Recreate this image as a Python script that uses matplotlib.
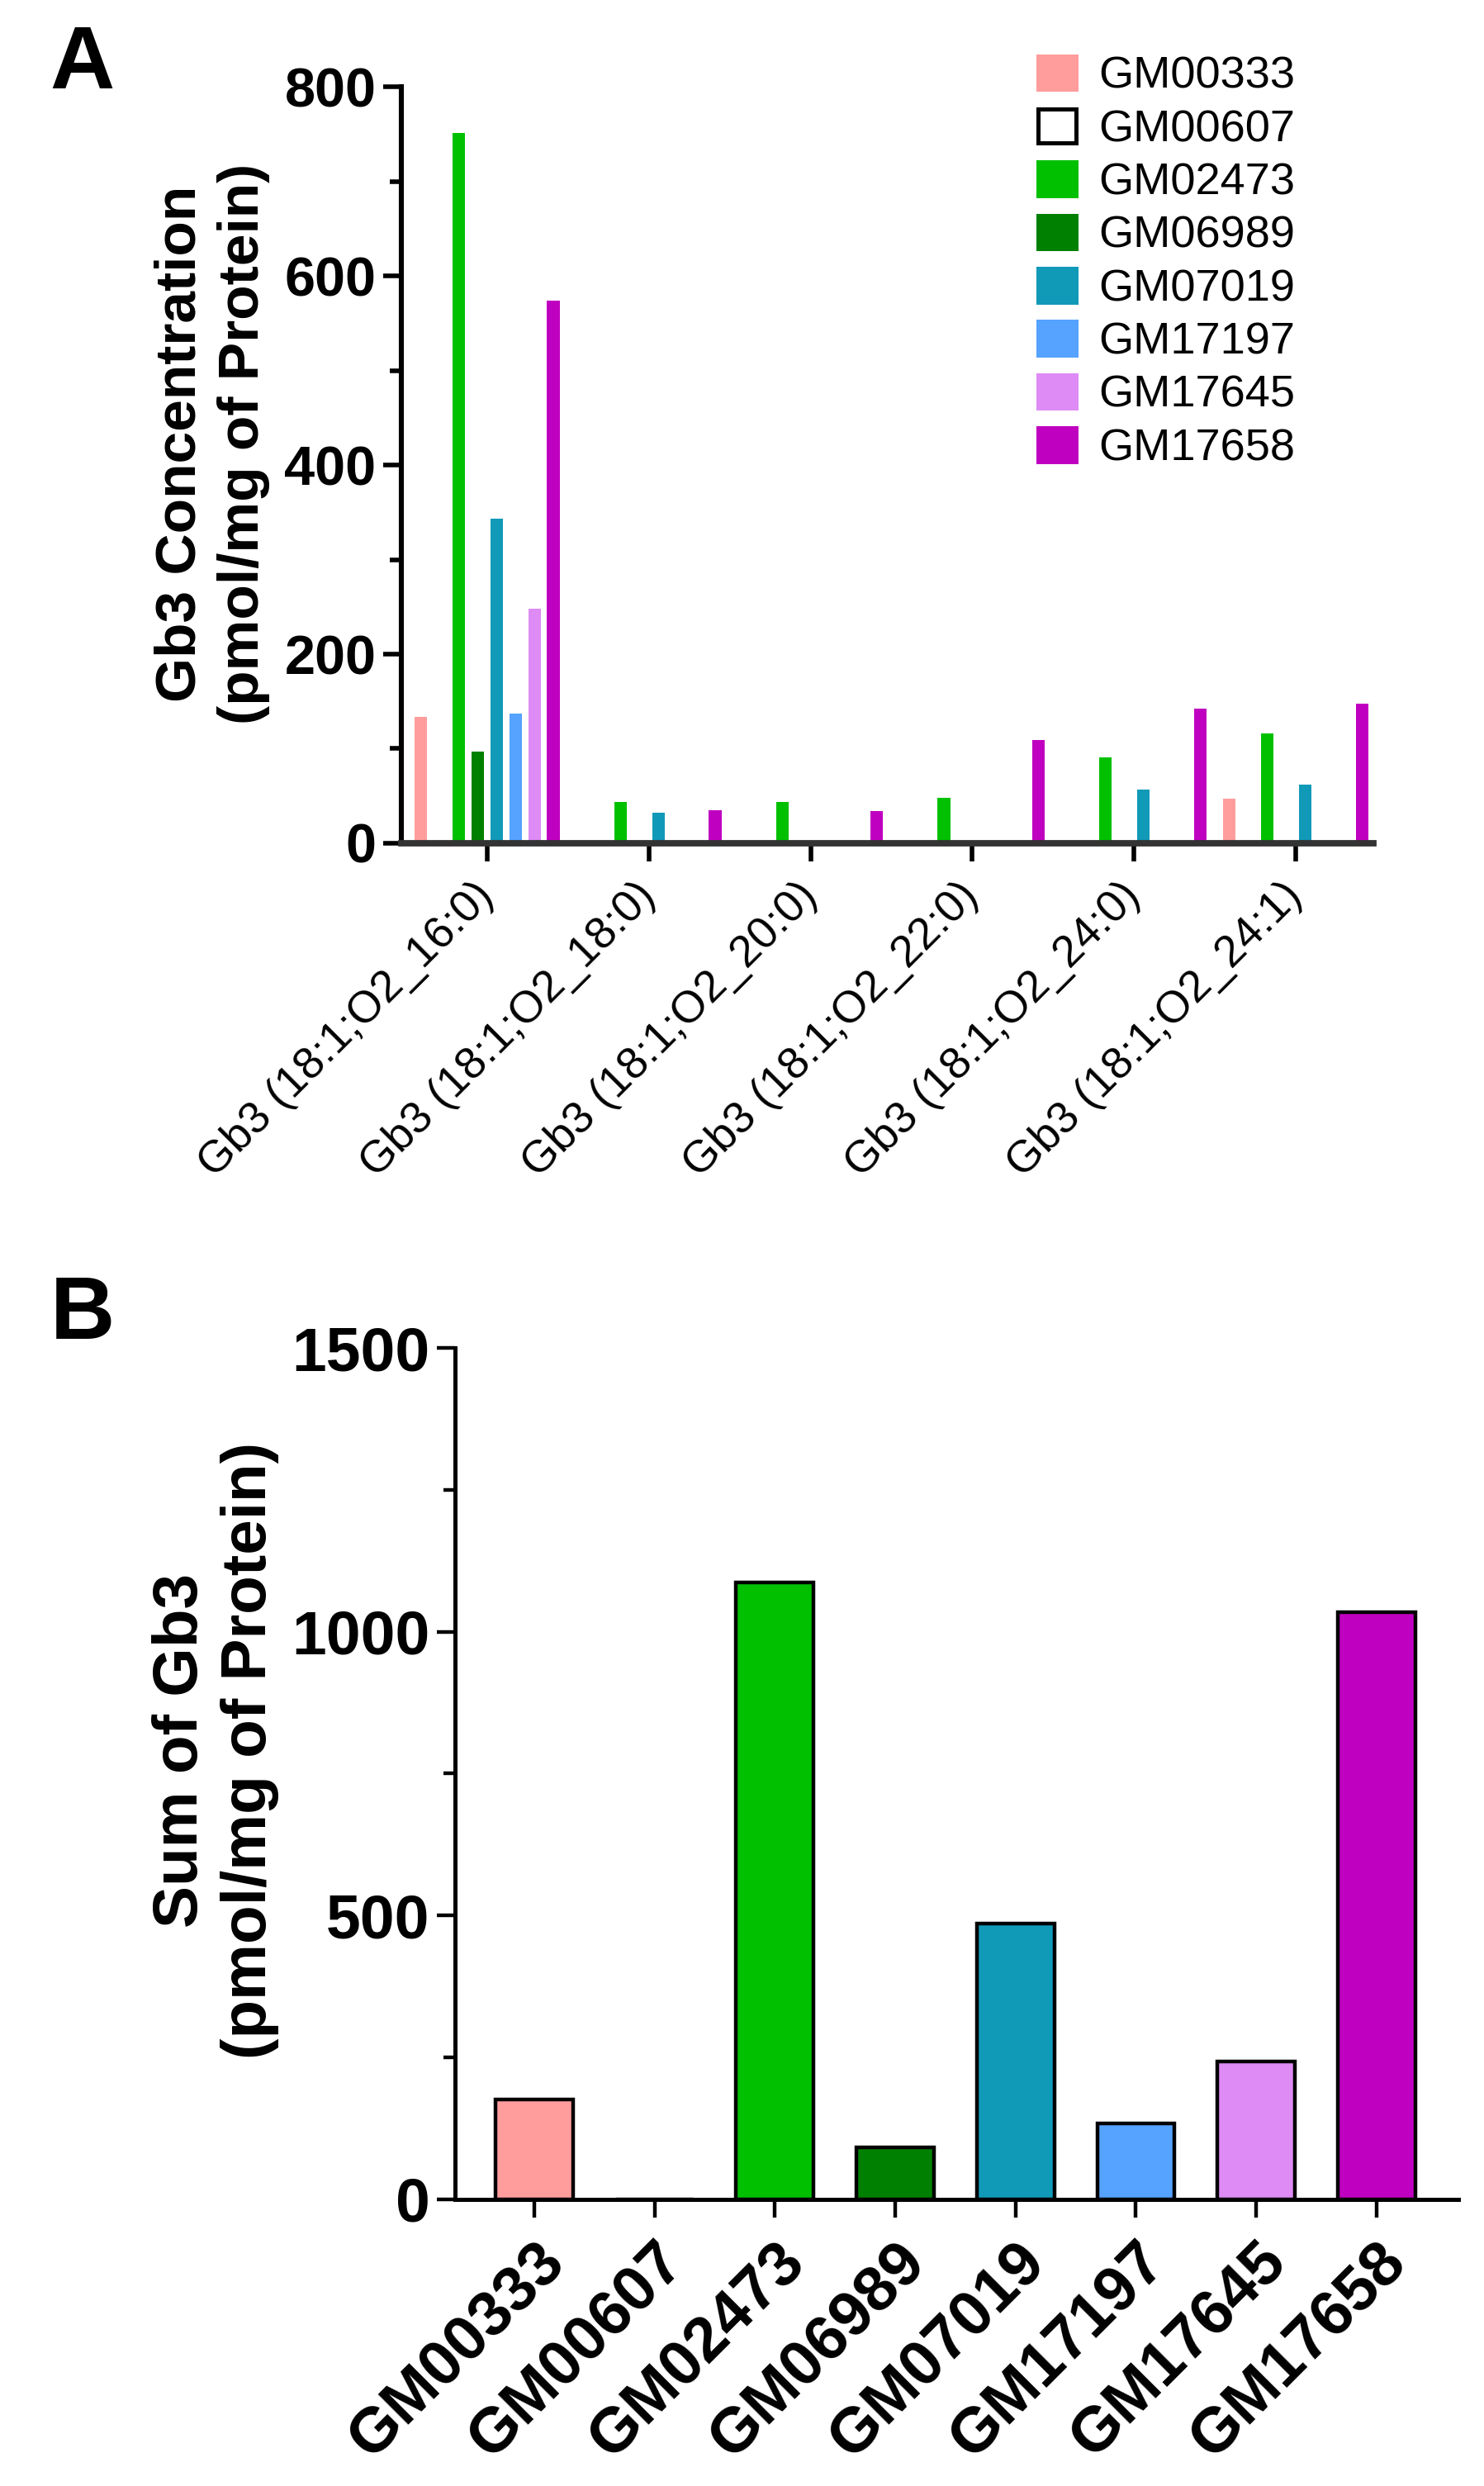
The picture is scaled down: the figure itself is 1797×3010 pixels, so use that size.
import matplotlib
matplotlib.use("Agg")
import numpy as np
from matplotlib import pyplot as plt
from matplotlib.patches import Patch
from matplotlib.ticker import MultipleLocator

plt.rcParams["font.family"] = ["Liberation Sans", "DejaVu Sans"]

species = ["Gb3 (18:1;O2_16:0)", "Gb3 (18:1;O2_18:0)", "Gb3 (18:1;O2_20:0)",
           "Gb3 (18:1;O2_22:0)", "Gb3 (18:1;O2_24:0)", "Gb3 (18:1;O2_24:1)"]

lines = ["GM00333", "GM00607", "GM02473", "GM06989",
         "GM07019", "GM17197", "GM17645", "GM17658"]

colors = ["#FF9D9D", "#FFFFFF", "#00C000", "#008000",
          "#1199B8", "#55A2FF", "#DE8BF5", "#C000C0"]

# Gb3 concentration per species (pmol/mg protein), one list per cell line
conc = {
    "GM00333": [134, 0, 0, 0, 0, 47],
    "GM00607": [0, 0, 0, 0, 0, 0],
    "GM02473": [751, 44, 44, 48, 91, 116],
    "GM06989": [97, 0, 0, 0, 0, 0],
    "GM07019": [343, 32, 0, 0, 57, 62],
    "GM17197": [137, 0, 0, 0, 0, 0],
    "GM17645": [248, 0, 0, 0, 0, 0],
    "GM17658": [574, 35, 34, 109, 142, 148],
}

# sum of Gb3 per cell line
totals = [176, 0, 1087, 92, 486, 134, 243, 1034]

fig = plt.figure(figsize=(8.985, 15.05), dpi=200)

# ---- panel A
axA = fig.add_axes([0.2705, 0.6608, 0.6549, 0.3043])
x = np.arange(len(species))
slot = 0.117
for i, name in enumerate(lines):
    offs = (i - 3.5) * slot
    axA.bar(x + offs, conc[name], width=0.078, color=colors[i],
            edgecolor="none", zorder=2)

axA.set_xlim(-0.53, 5.48)
axA.set_ylim(0, 800)
axA.yaxis.set_major_locator(MultipleLocator(200))
axA.yaxis.set_minor_locator(MultipleLocator(100))
axA.set_xticks(x)
axA.set_xticklabels(species, rotation=45, ha="right", va="center",
                    rotation_mode="anchor", fontsize=19.5)
for lab in axA.get_yticklabels():
    lab.set_fontweight("bold")
    lab.set_fontsize(24)
axA.tick_params(axis="y", which="major", length=8, width=2, pad=3)
axA.tick_params(axis="y", which="minor", length=5, width=2)
axA.tick_params(axis="x", which="major", length=8, width=2, pad=12)
for s in ["top", "right"]:
    axA.spines[s].set_visible(False)
axA.spines["left"].set_linewidth(2.2)
axA.spines["bottom"].set_linewidth(2.8)
axA.spines["bottom"].set_color("#333333")
axA.set_ylabel("Gb3 Concentration\n(pmol/mg of Protein)", fontsize=25,
               fontweight="bold", linespacing=1.25)
axA.yaxis.set_label_coords(-0.135, 0.528)

handles = [Patch(facecolor=c, edgecolor=("black" if c == "#FFFFFF" else c),
                 linewidth=1.8) for c in colors]
axA.legend(handles, lines, loc="upper left", bbox_to_anchor=(0.6995, 0.9775),
           bbox_transform=fig.transFigure, frameon=False, fontsize=19.5,
           handlelength=0.85, handleheight=0.78, handletextpad=0.5,
           labelspacing=0.26, borderaxespad=0, borderpad=0)

fig.text(0.0556, 0.9738, "A", fontsize=39, fontweight="bold",
         ha="center", va="center")

# ---- panel B
axB = fig.add_axes([0.3066, 0.1153, 0.6761, 0.3425])
xb = np.arange(len(lines))
axB.bar(xb, totals, width=0.645, color=colors, edgecolor="black",
        linewidth=1.6, zorder=2)
axB.set_xlim(-0.66, 7.68)
axB.set_ylim(0, 1500)
axB.yaxis.set_major_locator(MultipleLocator(500))
axB.yaxis.set_minor_locator(MultipleLocator(250))
axB.set_xticks(xb)
axB.set_xticklabels(lines, rotation=45, ha="right", rotation_mode="anchor",
                    fontsize=27.5, fontweight="bold")
for lab in axB.get_yticklabels():
    lab.set_fontweight("bold")
    lab.set_fontsize(27)
axB.tick_params(axis="y", which="major", length=8, width=1.6, pad=3)
axB.tick_params(axis="y", which="minor", length=5, width=1.6)
axB.tick_params(axis="x", which="major", length=8, width=1.6, pad=6)
for s in ["top", "right"]:
    axB.spines[s].set_visible(False)
axB.spines["left"].set_linewidth(1.8)
axB.spines["bottom"].set_linewidth(1.8)
axB.set_ylabel("Sum of Gb3\n(pmol/mg of Protein)", fontsize=27.5,
               fontweight="bold", linespacing=1.22)
axB.yaxis.set_label_coords(-0.175, 0.527)

fig.text(0.0556, 0.4708, "B", fontsize=39, fontweight="bold",
         ha="center", va="center")

fig.savefig("out.png", dpi=200)
